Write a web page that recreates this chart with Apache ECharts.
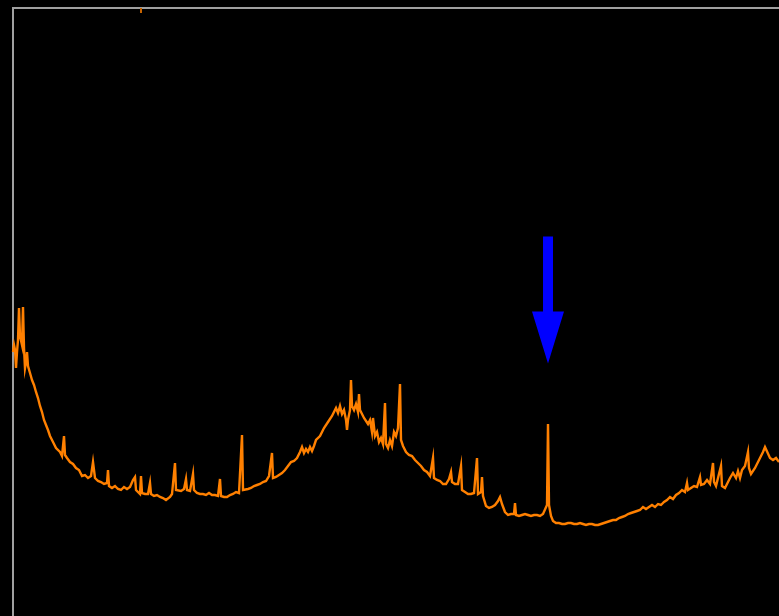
<!DOCTYPE html>
<html>
<head>
<meta charset="utf-8">
<script src="https://cdn.jsdelivr.net/npm/echarts@6/dist/echarts.min.js"></script>
<style>
  html, body { margin: 0; padding: 0; background: #000; }
  #chart { width: 779px; height: 616px; }
</style>
</head>
<body>
<div id="chart"></div>
<script>
// Spectrum: detector channel vs. counts
const channel = [
  0,1,2,3,4,5,6,7,8,9,10,11,12,13,14,15,
  17,19,21,23,25,27,29,31,33,35,37,39,41,43,45,47,49,51,52,54,57,60,63,66,69,72,75,78,80,82,85,88,91,94,95,96,99,102,105,108,111,114,
  117,120,122,123,127,128,129,
  132,135,137,138,141,144,147,150,153,155,157,159,162,163,165,168,171,173,174,177,180,181,184,187,190,193,196,199,202,205,207,208,211,214,217,220,223,226,229,230,232,235,238,241,244,247,250,253,256,259,260,263,266,269,272,275,278,281,284,
  287,289,291,293,295,297,299,301,303,305,307,309,311,313,315,317,319,321,323,325,327,329,331,333,334,335,337,338,339,341,343,345,346,347,349,351,353,355,357,359,360,362,364,366,368,370,372,373,375,377,379,381,383,385,387,388,
  390,393,396,399,402,405,408,411,414,417,420,421,424,427,430,433,436,438,439,442,445,448,449,452,455,458,461,464,465,468,469,470,473,476,479,482,485,487,489,492,495,498,501,502,503,506,509,512,515,518,521,524,527,530,532,534,535,536,538,
  540,543,546,549,552,555,558,561,564,567,570,573,576,579,582,585,588,591,594,597,600,603,606,609,612,615,618,621,624,
  627,630,633,636,639,642,645,648,651,654,657,660,663,666,669,672,674,675,678,681,684,687,688,691,694,697,700,701,703,705,708,709,712,714,717,720,723,725,727,729,732,735,736,738,740,742,745,748,750,752,754,757,760,763,766
];
const counts = [
  276,283,278,260,276,288,320,292,290,283,321,280,260,266,276,262,
  255,248,243,236,230,222,216,208,203,198,192,188,184,180,182,176,172,192,173,170,166,164,160,158,152,153,150,152,166,150,147,146,144,145,158,142,140,142,139,138,141,139,
  141,148,151,138,134,152,135,
  134,134,145,134,132,133,131,130,128,127,131,134,165,138,138,137,139,149,138,137,154,138,135,134,134,133,135,133,133,132,149,132,131,131,133,134,136,135,193,138,137,139,140,142,143,144,146,147,152,175,150,151,153,155,158,162,166,167,170,
  176,181,175,179,176,181,177,182,188,186,192,194,200,198,206,204,212,210,220,215,222,214,218,208,198,208,218,248,222,218,224,216,234,218,216,210,212,204,208,196,210,192,196,186,190,184,225,184,180,188,182,196,192,200,244,188,
  182,176,173,172,168,165,162,158,156,152,170,150,148,147,144,144,149,156,146,144,144,162,138,136,134,134,135,170,134,136,151,132,122,120,121,123,127,131,124,116,113,114,114,125,113,112,113,114,113,112,113,113,112,114,116,123,204,123,112,
  107,105,105,104,104,105,105,104,104,105,104,103,104,104,103,103,104,105,106,107,108,108,110,111,112,114,115,116,117,
  118,121,119,121,123,121,124,123,126,128,131,129,133,135,138,136,145,138,140,142,141,151,143,144,148,144,165,146,142,144,162,142,140,142,150,155,150,157,150,158,162,176,160,154,153,160,166,172,176,181,180,170,168,170,166
];

// Off-scale event recorded at the top edge
const clippedChannel = [128, 128];
const clippedCounts = [620, 615];

// Marked line position and arrow anchor
const markedChannel = 535;
const arrowCenterCounts = 328;

const spectrum = channel.map((c, i) => [c, counts[i]]);
const clipped = clippedChannel.map((c, i) => [c, clippedCounts[i]]);

const chart = echarts.init(document.getElementById('chart'), null, { renderer: 'canvas' });
chart.setOption({
  backgroundColor: '#000000',
  animation: false,
  grid: {
    left: 13, top: 8, width: 780, height: 620,
    outerBoundsMode: 'none',
    containLabel: false,
    show: true, borderColor: '#a0a0a0', borderWidth: 2, backgroundColor: '#000000'
  },
  xAxis: {
    type: 'value', min: 0, max: 780,
    axisLine: { show: false }, axisTick: { show: false },
    axisLabel: { show: false }, splitLine: { show: false }
  },
  yAxis: {
    type: 'value', min: 0, max: 620,
    axisLine: { show: false }, axisTick: { show: false },
    axisLabel: { show: false }, splitLine: { show: false }
  },
  series: [
    {
      type: 'line',
      data: spectrum,
      showSymbol: false,
      clip: true,
      lineStyle: { color: '#ff8000', width: 2.4, join: 'miter' },
      markPoint: {
        silent: true,
        symbol: 'path://M11,0 L21,0 L21,75 L32,75 L16,127 L0,75 L11,75 Z',
        symbolSize: [32, 127],
        itemStyle: { color: '#0000ff' },
        label: { show: false },
        data: [{ coord: [markedChannel, arrowCenterCounts] }]
      }
    },
    {
      type: 'line',
      data: clipped,
      showSymbol: false,
      lineStyle: { color: '#c86400', width: 2 }
    }
  ]
});
</script>
</body>
</html>
